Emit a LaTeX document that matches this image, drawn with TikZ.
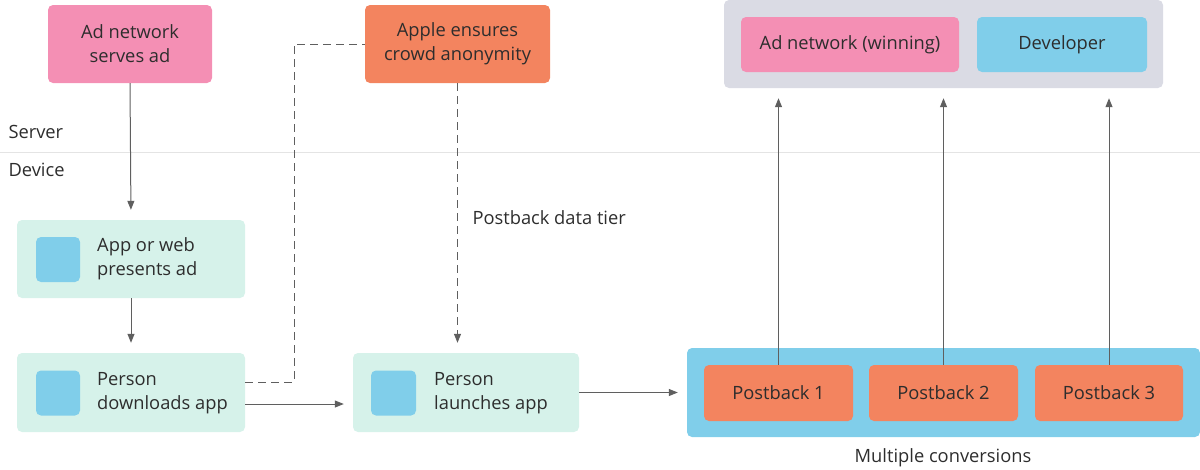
\documentclass[tikz,border=0pt]{standalone}
\usepackage{fontspec}
\setmainfont{Open Sans}
\usetikzlibrary{arrows.meta}
\definecolor{pinkc}{RGB}{244,143,180}
\definecolor{orangec}{RGB}{243,132,95}
\definecolor{mintc}{RGB}{214,242,234}
\definecolor{bluec}{RGB}{128,206,234}
\definecolor{greyc}{RGB}{218,219,228}
\definecolor{linec}{RGB}{95,95,95}
\definecolor{txtc}{RGB}{45,45,45}
\definecolor{sepc}{RGB}{228,228,228}
\begin{document}
\begin{tikzpicture}[x=1pt,y=-1pt,
  every node/.style={font=\fontsize{18.3}{24}\selectfont, text=txtc},
  box/.style={rounded corners=5pt, inner sep=0pt, align=center},
  arr/.style={draw=linec, line width=1pt, -{Triangle[length=9pt,width=7pt]}},
  dashline/.style={draw=linec, line width=1pt, dash pattern=on 8pt off 5pt}]
\useasboundingbox (0,0) rectangle (1200,469);
% separator
\draw[sepc, line width=1pt] (0,152) -- (1200,152);
\node[anchor=west] (server) at (5,132) {Server};
\node[anchor=west] (device) at (5,170) {Device};
% server boxes
\node[box, fill=pinkc, minimum width=164pt, minimum height=78pt] (adnet) at (130,44) {Ad network\\serves ad};
\node[box, fill=orangec, minimum width=185pt, minimum height=78pt] (apple) at (457.5,44) {Apple ensures\\crowd anonymity};
\node[box, fill=greyc, minimum width=439pt, minimum height=88pt] (grey) at (943.5,44) {};
\node[box, fill=pinkc, minimum width=218pt, minimum height=55pt] (win) at (850,44.5) {Ad network (winning)};
\node[box, fill=bluec, minimum width=170pt, minimum height=55pt] (dev) at (1062,44.5) {Developer};
% device boxes
\node[box, fill=mintc, minimum width=228pt, minimum height=78pt] (app) at (131,259) {};
\node[box, fill=mintc, minimum width=228pt, minimum height=79pt] (down) at (131,392.5) {};
\node[box, fill=mintc, minimum width=226pt, minimum height=79pt] (launch) at (466,392.5) {};
\node[box, fill=bluec, minimum width=44pt, minimum height=45pt] (sq1) at (58,259.5) {};
\node[box, fill=bluec, minimum width=44pt, minimum height=45pt] (sq2) at (58,393) {};
\node[box, fill=bluec, minimum width=45pt, minimum height=45pt] (sq3) at (393.5,393) {};
\node[anchor=west, align=left, inner sep=0pt] (apptxt) at (97,259) {App or web\\presents ad};
\node[anchor=west, align=left, inner sep=0pt] (downtxt) at (97,393) {Person\\downloads app};
\node[anchor=west, align=left, inner sep=0pt] (launchtxt) at (434,393) {Person\\launches app};
\node[box, fill=bluec, minimum width=513pt, minimum height=89pt] (multi) at (943.5,392.5) {};
\node[box, fill=orangec, minimum width=149pt, minimum height=56pt] (pb1) at (778.5,393) {Postback 1};
\node[box, fill=orangec, minimum width=149pt, minimum height=56pt] (pb2) at (943.5,393) {Postback 2};
\node[box, fill=orangec, minimum width=148pt, minimum height=56pt] (pb3) at (1109,393) {Postback 3};
\node (tier) [anchor=west] at (469,218) {Postback data tier};
\node (conv) at (943,458) {Multiple conversions};
% connectors
\draw[arr, shorten >=10pt] (adnet.south) -- (app.north);
\draw[arr, shorten >=10pt] (app.south) -- (down.north);
\draw[arr, shorten >=9pt] ([yshift=-11.5pt]down.east) -- ([yshift=-11.5pt]down.east -| launch.west);
\draw[arr, shorten >=9pt] (launch.east) -- (launch.east -| multi.west);
\coordinate (dA) at (294,382);
\coordinate (dB) at (294,44);
\draw[dashline] ([yshift=10.5pt]down.east) -- (dA) -- (dB) -- (apple.west);
\draw[dashline, -{Triangle[length=9pt,width=7pt]}, shorten >=10pt] (apple.south) -- (apple.south |- launch.north);
\draw[arr, shorten >=10pt] (pb1.north) -- (pb1.north |- grey.south);
\draw[arr, shorten >=10pt] (pb2.north) -- (pb2.north |- grey.south);
\draw[arr, shorten >=10pt] (pb3.north) -- (pb3.north |- grey.south);
\end{tikzpicture}
\end{document}
